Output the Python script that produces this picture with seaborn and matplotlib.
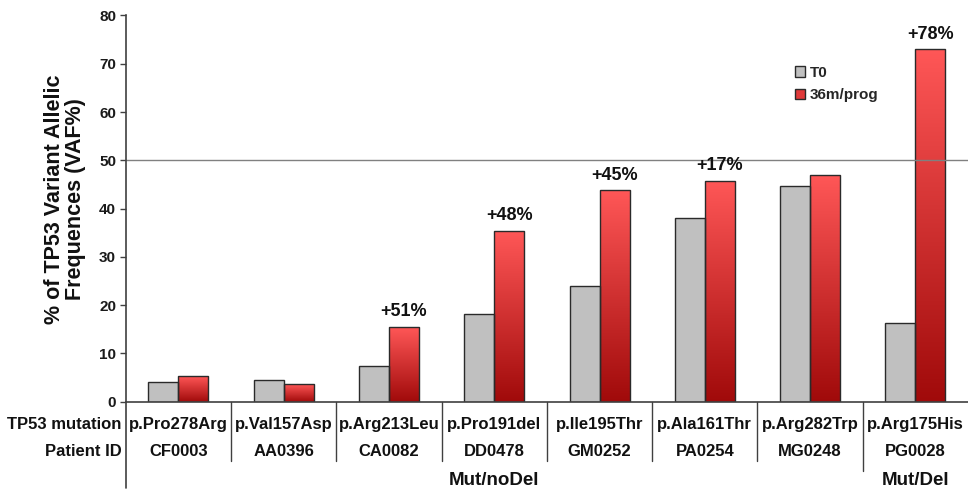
import numpy as np
import pandas as pd
import matplotlib
matplotlib.use("Agg")
import matplotlib.pyplot as plt
import seaborn as sns
from matplotlib.colors import LinearSegmentedColormap
from matplotlib.patches import Patch

# --- data -------------------------------------------------------------
patients = ["CF0003", "AA0396", "CA0082", "DD0478", "GM0252", "PA0254", "MG0248", "PG0028"]
mutations = ["p.Pro278Arg", "p.Val157Asp", "p.Arg213Leu", "p.Pro191del",
             "p.Ile195Thr", "p.Ala161Thr", "p.Arg282Trp", "p.Arg175His"]
vaf_t0 = [4.1, 4.4, 7.5, 18.2, 23.9, 38.0, 44.6, 16.3]
vaf_36m = [5.3, 3.6, 15.5, 35.4, 43.8, 45.8, 47.0, 73.0]
increase_labels = ["", "", "+51%", "+48%", "+45%", "+17%", "", "+78%"]
series = ["T0", "36m/prog"]
groups = ["Mut/noDel", "Mut/Del"]
group_sizes = [7, 1]
y_ticks = [0, 10, 20, 30, 40, 50, 60, 70, 80]

df = pd.DataFrame({
    "patient": patients * 2,
    "vaf": vaf_t0 + vaf_36m,
    "time": [series[0]] * len(patients) + [series[1]] * len(patients),
})

# --- style ------------------------------------------------------------
sns.set_theme(style="ticks")
plt.rcParams["font.family"] = ["Liberation Sans", "DejaVu Sans"]
table_font = ["Liberation Sans Narrow", "Liberation Sans", "DejaVu Sans"]

GRAY = "#c0c0c0"
RED = "#e03a3a"
EDGE = "#2a2a2a"
AXIS = "#404040"
INK = "#111111"

fig = plt.figure(figsize=(9.68, 4.92), dpi=100)
ax = fig.add_axes([0.130, 0.1835, 0.870, 0.785])

sns.barplot(data=df, x="patient", y="vaf", hue="time", order=patients,
            hue_order=series, palette={series[0]: GRAY, series[1]: RED},
            width=0.57, saturation=1, edgecolor=EDGE, linewidth=1,
            legend=False, ax=ax)

# vertical red gradient inside the 36m/prog bars
red_cmap = LinearSegmentedColormap.from_list("redgrad", ["#a00a0a", "#ff5757"])
grad = np.linspace(0, 1, 256).reshape(-1, 1)
red_bars = [p for p in ax.patches
            if np.allclose(p.get_facecolor()[:3], matplotlib.colors.to_rgb(RED))]
red_bars.sort(key=lambda p: p.get_x())
for bar in red_bars:
    x, w, h = bar.get_x(), bar.get_width(), bar.get_height()
    im = ax.imshow(grad, extent=[x, x + w, 0, h], origin="lower",
                   cmap=red_cmap, aspect="auto", zorder=bar.get_zorder() - 0.1)
    im.set_clip_path(bar)
    bar.set_facecolor("none")

# percentage increase annotations above the red bars
for bar, lab in zip(red_bars, increase_labels):
    if lab:
        ax.text(bar.get_x() + bar.get_width() / 2, bar.get_height() + 1.4, lab,
                ha="center", va="bottom", fontsize=13, fontweight="bold", color=INK)

ax.set_xlim(-0.5, len(patients) - 0.5)
ax.set_ylim(0, 80)
ax.set_yticks(y_ticks)
ax.axhline(50, color="#808080", lw=1, zorder=1)

for s in ["top", "right"]:
    ax.spines[s].set_visible(False)
for s in ["left", "bottom"]:
    ax.spines[s].set_color(AXIS)
    ax.spines[s].set_linewidth(1.2)

ax.tick_params(axis="y", length=4, width=1, color=AXIS, labelsize=11,
               labelcolor="#1a1a1a", pad=3)
for t in ax.get_yticklabels():
    t.set_fontweight("bold")
ax.tick_params(axis="x", length=0, labelbottom=False)
ax.set_xlabel("")

ax.set_ylabel("% of TP53 Variant Allelic\nFrequences (VAF%)", fontsize=15.5,
              fontweight="bold", color=INK, va="center", ha="center",
              linespacing=1.0)
ax.yaxis.set_label_coords(-0.0725, 0.5235)

# legend
handles = [Patch(facecolor=GRAY, edgecolor=EDGE), Patch(facecolor=RED, edgecolor=EDGE)]
ax.legend(handles, series, loc="upper left", bbox_to_anchor=(0.778, 0.905),
          frameon=False, handlelength=0.7, handleheight=0.7, handletextpad=0.3,
          labelspacing=0.55, prop={"weight": "bold", "size": 11})

# table beneath the axis
trans = ax.get_xaxis_transform()
row_mut, row_pid, row_grp = -0.058, -0.130, -0.205
for label, row in [("TP53 mutation", row_mut), ("Patient ID", row_pid)]:
    ax.text(-0.54, row, label, transform=trans, ha="right", va="center",
            fontsize=12, fontweight="bold", family=table_font, color=INK)
for i, (m, p) in enumerate(zip(mutations, patients)):
    ax.text(i, row_mut, m, transform=trans, ha="center", va="center",
            fontsize=12, fontweight="bold", family=table_font, color=INK)
    ax.text(i, row_pid, p, transform=trans, ha="center", va="center",
            fontsize=12, fontweight="bold", family=table_font, color=INK)

# cell dividers
ax.plot([-0.5, -0.5], [0, -0.2235], transform=trans, color=AXIS, lw=1.2, clip_on=False)
group_edges = np.cumsum(group_sizes)[:-1] - 0.5
for b in np.arange(0.5, len(patients) - 0.5, 1.0):
    bottom = -0.179 if b in group_edges else -0.1535
    ax.plot([b, b], [0, bottom], transform=trans, color=AXIS, lw=1, clip_on=False)

# group labels
start = 0
for g, n in zip(groups, group_sizes):
    ax.text(start + (n - 1) / 2, row_grp, g, transform=trans, ha="center", va="center",
            fontsize=13.5, fontweight="bold", family=table_font, color=INK)
    start += n

fig.savefig("out.png", dpi=100)
